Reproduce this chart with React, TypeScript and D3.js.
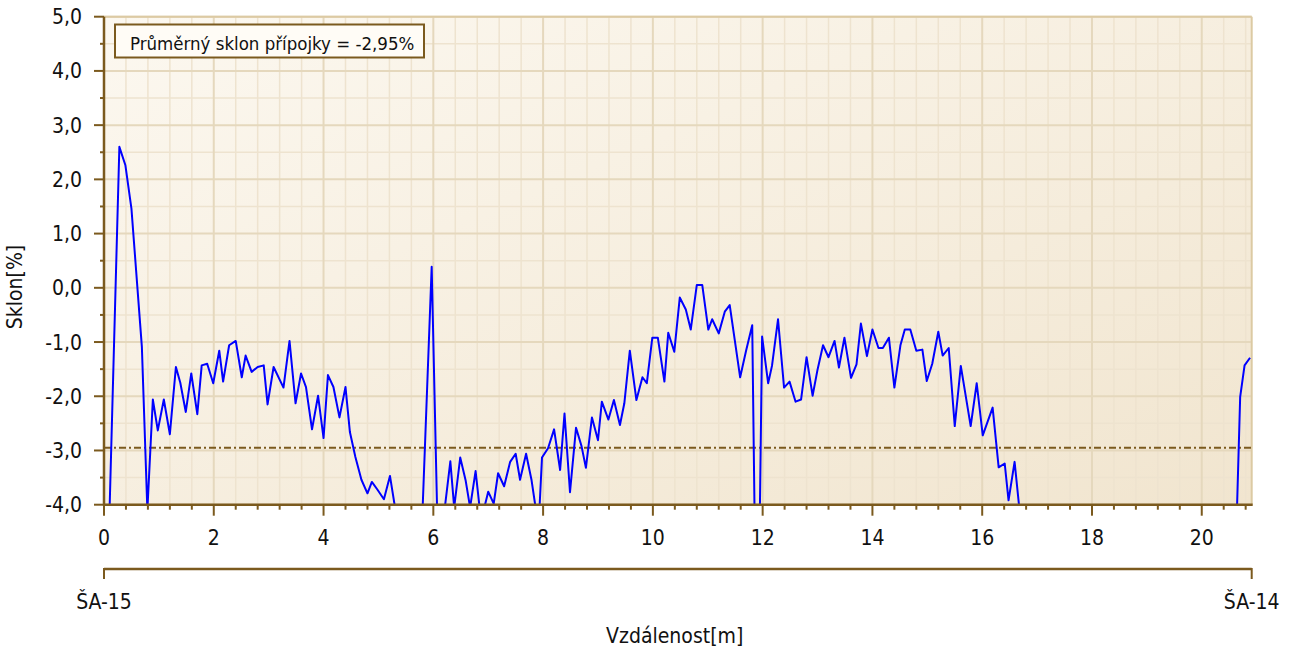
import React from "react";
import * as d3 from "d3";

// ---- data ----
const distance = [
  0.0, 0.28, 0.39, 0.5, 0.69, 0.79, 0.89, 0.98, 1.09, 1.2, 1.31, 1.39, 1.49, 1.59, 1.7, 1.78, 1.88, 1.99,
  2.1, 2.17, 2.28, 2.4, 2.51, 2.58, 2.69, 2.8, 2.91, 2.98, 3.09, 3.27, 3.38, 3.49, 3.59, 3.68, 3.79, 3.9,
  4.0, 4.08, 4.18, 4.29, 4.4, 4.48, 4.58, 4.69, 4.8, 4.88, 4.98, 5.1, 5.21, 5.31, 5.4, 5.5, 5.6, 5.7, 5.8,
  5.97, 6.07, 6.14, 6.21, 6.31, 6.38, 6.49, 6.59, 6.67, 6.77, 6.87, 7.0, 7.1, 7.18, 7.29, 7.4, 7.5, 7.58,
  7.69, 7.79, 7.87, 7.93, 7.98, 8.09, 8.2, 8.31, 8.39, 8.49, 8.6, 8.7, 8.78, 8.89, 9.0, 9.07, 9.19, 9.29,
  9.4, 9.48, 9.58, 9.7, 9.81, 9.89, 9.99, 10.09, 10.21, 10.28, 10.39, 10.49, 10.6, 10.69, 10.8, 10.9,
  11.01, 11.08, 11.2, 11.31, 11.4, 11.59, 11.7, 11.81, 11.9, 11.99, 12.1, 12.17, 12.28, 12.39, 12.49,
  12.6, 12.7, 12.8, 12.91, 13.0, 13.1, 13.2, 13.31, 13.39, 13.49, 13.61, 13.71, 13.79, 13.9, 14.0, 14.11,
  14.19, 14.3, 14.4, 14.51, 14.59, 14.69, 14.8, 14.91, 14.99, 15.09, 15.2, 15.28, 15.39, 15.5, 15.61,
  15.79, 15.9, 16.01, 16.19, 16.3, 16.41, 16.48, 16.59, 16.7, 17.0, 18.0, 19.0, 20.0, 20.63, 20.7, 20.78,
  20.88,
];
const slope = [
  -7.9, 2.6, 2.26, 1.46, -1.09, -4.1, -2.06, -2.63, -2.06, -2.7, -1.46, -1.75, -2.29, -1.58, -2.33, -1.43,
  -1.4, -1.76, -1.16, -1.73, -1.06, -0.98, -1.65, -1.25, -1.55, -1.46, -1.43, -2.15, -1.46, -1.84, -0.98,
  -2.13, -1.58, -1.83, -2.61, -1.99, -2.77, -1.61, -1.83, -2.39, -1.83, -2.66, -3.12, -3.54, -3.79, -3.58,
  -3.72, -3.9, -3.47, -4.1, -4.8, -5.2, -5.0, -4.7, -4.2, 0.39, -4.15, -4.4, -4.05, -3.2, -4.05, -3.13,
  -3.56, -4.05, -3.38, -4.3, -3.76, -3.98, -3.42, -3.66, -3.21, -3.06, -3.54, -3.06, -3.55, -4.1, -4.15,
  -3.13, -2.96, -2.61, -3.36, -2.32, -3.77, -2.58, -2.92, -3.32, -2.39, -2.81, -2.1, -2.43, -2.07, -2.53,
  -2.13, -1.16, -2.07, -1.65, -1.76, -0.92, -0.92, -1.73, -0.83, -1.18, -0.18, -0.4, -0.77, 0.05, 0.05,
  -0.77, -0.58, -0.84, -0.44, -0.32, -1.65, -1.15, -0.69, -8.0, -0.9, -1.76, -1.44, -0.58, -1.84, -1.73,
  -2.1, -2.06, -1.28, -1.99, -1.51, -1.06, -1.28, -0.98, -1.47, -0.92, -1.66, -1.41, -0.66, -1.26, -0.77,
  -1.11, -1.11, -0.92, -1.84, -1.06, -0.77, -0.77, -1.16, -1.14, -1.72, -1.4, -0.81, -1.25, -1.11, -2.55,
  -1.44, -2.55, -1.76, -2.72, -2.21, -3.31, -3.24, -3.92, -3.21, -4.3, -4.8, -5.2, -5.0, -4.9, -4.5,
  -2.01, -1.43, -1.29,
];
const averageSlope = -2.95;
const legendText = "Průměrný sklon přípojky = -2,95%";
const xTicksMajor = [0, 2, 4, 6, 8, 10, 12, 14, 16, 18, 20];
const yTicksMajor = [-4, -3, -2, -1, 0, 1, 2, 3, 4, 5];
const endNames = ["ŠA-15", "ŠA-14"];
const xTitle = "Vzdálenost[m]";
const yTitle = "Sklon[%]";

const FONT = "'DejaVu Sans Condensed', 'DejaVu Sans', sans-serif";
const AXIS = "#7b5a1e";

export default function App() {
  const W = 1295, H = 650;
  const left = 104, right = 1251.7, top = 16.7, bottom = 504.7;
  const x = d3.scaleLinear().domain([0, 20.91]).range([left, right]);
  const y = d3.scaleLinear().domain([-4, 5]).range([bottom, top]);

  const xMinor = d3.range(1, 53).map((k) => +(k * 0.4).toFixed(2)).filter((v) => v <= 20.91);
  const yMinor = d3.range(-4, 5.01, 0.5);

  const pts = distance.map((d, i) => [d, slope[i]] as [number, number]);
  const line = d3.line<[number, number]>().x((d) => x(d[0])).y((d) => y(d[1]));
  const fmt = (v: number) => d3.format(".1f")(v).replace("\u2212", "-").replace(".", ",");

  return (
    <svg width={W} height={H} style={{ position: "absolute", left: 0, top: 0, background: "#fff" }}>
      <defs>
        <linearGradient id="bg" x1="0" y1="0" x2="1" y2="1">
          <stop offset="0" stopColor="#fcf8f0" />
          <stop offset="1" stopColor="#f1e5cf" />
        </linearGradient>
        <clipPath id="plot">
          <rect x={left} y={top} width={right - left} height={bottom - top} />
        </clipPath>
      </defs>
      <rect x={left} y={top} width={right - left} height={bottom - top} fill="url(#bg)" />
      {/* minor grid */}
      {xMinor.filter((v) => Math.abs(v / 2 - Math.round(v / 2)) > 1e-6).map((v) => (
        <line key={"xm" + v} x1={x(v)} x2={x(v)} y1={top} y2={bottom} stroke="#eee3cf" strokeWidth={1.5} />
      ))}
      {yMinor.filter((v) => !Number.isInteger(v)).map((v) => (
        <line key={"ym" + v} x1={left} x2={right} y1={y(v)} y2={y(v)} stroke="#eee3cf" strokeWidth={1.5} />
      ))}
      {/* major grid */}
      {xTicksMajor.map((v) => (
        <line key={"xg" + v} x1={x(v)} x2={x(v)} y1={top} y2={bottom} stroke="#e5d8bd" strokeWidth={2} />
      ))}
      {yTicksMajor.map((v) => (
        <line key={"yg" + v} x1={left} x2={right} y1={y(v)} y2={y(v)} stroke="#e5d8bd" strokeWidth={2} />
      ))}
      {/* frame top/right */}
      <line x1={left} x2={right} y1={top} y2={top} stroke="#dccaa3" strokeWidth={2} />
      <line x1={right} x2={right} y1={top} y2={bottom} stroke="#dccaa3" strokeWidth={2} />

      {/* average line */}
      <line x1={left} x2={right} y1={y(averageSlope)} y2={y(averageSlope)} stroke={AXIS} strokeWidth={2} strokeDasharray="7,3,2,3" />

      {/* data line */}
      <path d={line(pts) || ""} fill="none" stroke="#0000ff" strokeWidth={2} clipPath="url(#plot)" strokeLinejoin="round" />

      {/* legend */}
      <rect x={115} y={24.5} width={309} height={33} fill="#fffcf6" stroke={AXIS} strokeWidth={2} />
      <text x={130} y={49.5} fontFamily={FONT} fontSize={18.5} fill="#111">{legendText}</text>

      {/* y axis */}
      <line x1={left} x2={left} y1={top} y2={bottom + 1} stroke={AXIS} strokeWidth={2.5} />
      {yMinor.map((v) => (
        <line key={"yt" + v} x1={Number.isInteger(v) ? left - 10 : left - 4} x2={left} y1={y(v)} y2={y(v)} stroke={AXIS} strokeWidth={2} />
      ))}
      {yTicksMajor.map((v) => (
        <text key={"yl" + v} x={82} y={y(v)} dy="0.36em" textAnchor="end" fontFamily={FONT} fontSize={21} fill="#111">{fmt(v)}</text>
      ))}
      <text transform={`translate(21.5,287) rotate(-90)`} textAnchor="middle" fontFamily={FONT} fontSize={21} fill="#111">{yTitle}</text>

      {/* x axis */}
      <line x1={left - 1} x2={right + 1} y1={bottom} y2={bottom} stroke={AXIS} strokeWidth={2.5} />
      {xMinor.concat([0]).map((v) => (
        <line key={"xt" + v} x1={x(v)} x2={x(v)} y1={bottom} y2={Math.abs(v / 2 - Math.round(v / 2)) < 1e-6 ? bottom + 11 : bottom + 5} stroke={AXIS} strokeWidth={2} />
      ))}
      {xTicksMajor.map((v) => (
        <text key={"xl" + v} x={x(v)} y={545} textAnchor="middle" fontFamily={FONT} fontSize={21} fill="#111">{v}</text>
      ))}

      {/* secondary axis with manhole names */}
      <line x1={left} x2={right} y1={569} y2={569} stroke={AXIS} strokeWidth={2.5} />
      <line x1={left} x2={left} y1={568} y2={579} stroke={AXIS} strokeWidth={2} />
      <line x1={right} x2={right} y1={568} y2={579} stroke={AXIS} strokeWidth={2} />
      <text x={x(0)} y={609} textAnchor="middle" fontFamily={FONT} fontSize={21} fill="#111">{endNames[0]}</text>
      <text x={right} y={609} textAnchor="middle" fontFamily={FONT} fontSize={21} fill="#111">{endNames[1]}</text>
      <text x={674.7} y={642.5} textAnchor="middle" fontFamily={FONT} fontSize={21} fill="#111">{xTitle}</text>
    </svg>
  );
}
